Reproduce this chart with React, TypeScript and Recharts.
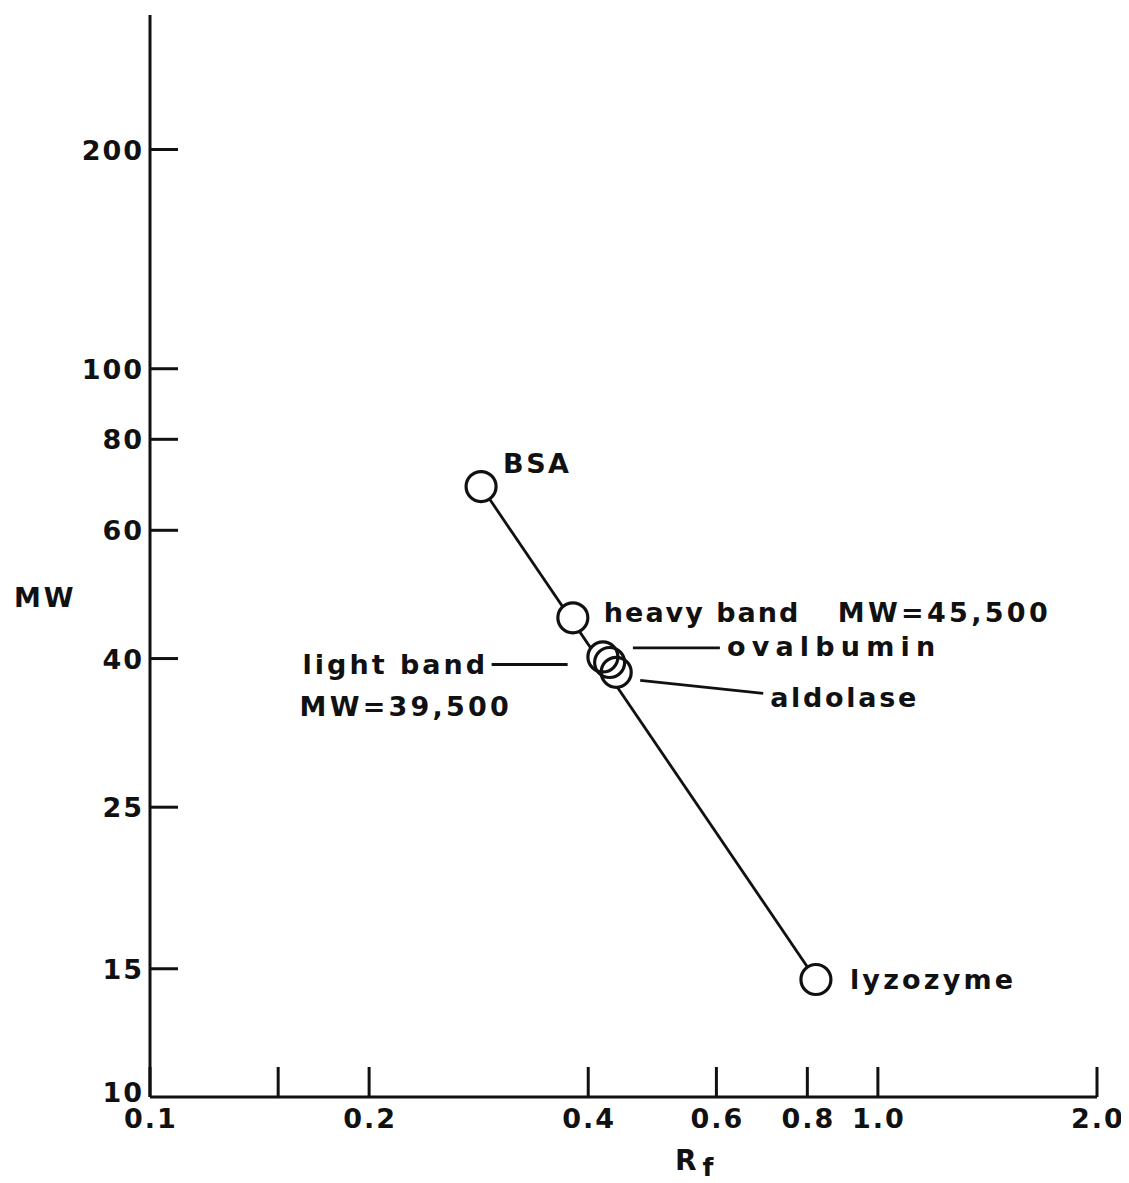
import React from 'react';
import { ComposedChart, Line, Scatter, XAxis, YAxis } from 'recharts';

const proteinNames = ['BSA', 'heavy band', 'ovalbumin', 'light band', 'aldolase', 'lyzozyme'];
const rfValues = [0.285, 0.381, 0.419, 0.428, 0.437, 0.822];
const mwValues = [68.9, 45.5, 40.2, 39.5, 38.3, 14.5];

const fitRf = [0.285, 0.822];
const fitMw = [68.9, 14.5];

const xTicks = [0.1, 0.15, 0.2, 0.4, 0.6, 0.8, 1.0, 2.0];
const xTickLabels = ['0.1', '', '0.2', '0.4', '0.6', '0.8', '1.0', '2.0'];
const yTicks = [10, 15, 25, 40, 60, 80, 100, 200];
const yTickLabels = ['10', '15', '25', '40', '60', '80', '100', '200'];

const points = proteinNames.map((name, i) => ({ name, rf: rfValues[i], mw: mwValues[i] }));
const fitData = fitRf.map((rf, i) => ({ rf, mw: fitMw[i] }));

const FONT = "'DejaVu Sans', Verdana, sans-serif";
const INK = '#111';
const R = 15;

type Ann = {
  texts: { t: string; dx: number; dy: number; ls: number }[];
  leader?: [number, number, number, number];
};

const annotations: Record<string, Ann> = {
  BSA: { texts: [{ t: 'BSA', dx: 22, dy: -24, ls: 2.5 }] },
  'heavy band': {
    texts: [
      { t: 'heavy band', dx: 31, dy: -6, ls: 2 },
      { t: 'MW=45,500', dx: 265, dy: -6, ls: 3.3 },
    ],
  },
  ovalbumin: { texts: [{ t: 'ovalbumin', dx: 124, dy: -11, ls: 6.2 }], leader: [30, -9, 117, -9] },
  'light band': {
    texts: [
      { t: 'light band', dx: -307, dy: 1, ls: 3 },
      { t: 'MW=39,500', dx: -310, dy: 43, ls: 3.2 },
    ],
    leader: [-118, 2, -42, 2],
  },
  aldolase: { texts: [{ t: 'aldolase', dx: 154, dy: 25, ls: 2.7 }], leader: [24, 8, 147, 21] },
  lyzozyme: { texts: [{ t: 'lyzozyme', dx: 34, dy: 0, ls: 3.2 }] },
};

const textStyle = { fontFamily: FONT, fontWeight: 700, fontSize: 27, letterSpacing: 2, fill: INK };

const FillShape = (props: any) => {
  const { cx, cy } = props;
  return <circle cx={cx} cy={cy} r={R} fill="#fff" stroke="none" />;
};

const OutlineShape = (props: any) => {
  const { cx, cy, payload } = props;
  const ann = annotations[payload.name];
  return (
    <g>
      <circle cx={cx} cy={cy} r={R} fill="none" stroke={INK} strokeWidth={3.2} />
      {ann && ann.leader && (
        <line
          x1={cx + ann.leader[0]}
          y1={cy + ann.leader[1]}
          x2={cx + ann.leader[2]}
          y2={cy + ann.leader[3]}
          stroke={INK}
          strokeWidth={2.8}
        />
      )}
      {ann &&
        ann.texts.map((tx, i) => (
          <text key={i} x={cx + tx.dx} y={cy + tx.dy + 10} textAnchor="start" style={{ ...textStyle, letterSpacing: tx.ls }}>
            {tx.t}
          </text>
        ))}
    </g>
  );
};

const XTick = (props: any) => {
  const { x, y, payload } = props;
  const idx = xTicks.indexOf(payload.value);
  const label = idx >= 0 ? xTickLabels[idx] : '';
  return (
    <g>
      <line x1={x} y1={y} x2={x} y2={y - 30} stroke={INK} strokeWidth={3} />
      {label && (
        <text x={x + 1} y={y + 31} textAnchor="middle" style={textStyle}>
          {label}
        </text>
      )}
    </g>
  );
};

const YTick = (props: any) => {
  const { x, y, payload } = props;
  const idx = yTicks.indexOf(payload.value);
  const label = idx >= 0 ? yTickLabels[idx] : '';
  const isBottom = payload.value === 10;
  return (
    <g>
      {!isBottom && <line x1={x} y1={y} x2={x + 28} y2={y} stroke={INK} strokeWidth={3} />}
      <text x={x - 6} y={y + 10 - (isBottom ? 5 : 0)} textAnchor="end" style={textStyle}>
        {label}
      </text>
    </g>
  );
};

export default function App() {
  return (
    <div style={{ width: 1121, height: 1175, background: '#fff' }}>
      <ComposedChart width={1121} height={1175} margin={{ top: 7, right: 32, bottom: 0, left: 0 }}>
        <XAxis
          dataKey="rf"
          type="number"
          scale="log"
          domain={[0.1, 2]}
          allowDataOverflow
          ticks={xTicks}
          interval={0}
          tickSize={0}
          tickMargin={0}
          height={86}
          axisLine={{ stroke: INK, strokeWidth: 3 }}
          tickLine={false}
          tick={<XTick />}
          label={(p: any) => {
            const vb = p.viewBox || {};
            const by = (vb.y || 1089) + 73;
            return (
              <text x={675 - 8} y={by} textAnchor="start" style={{ ...textStyle, fontSize: 28, letterSpacing: 0 }}>
                R
                <tspan dx={6} dy={6} style={{ fontSize: 25 }}>
                  f
                </tspan>
              </text>
            );
          }}
        />
        <YAxis
          dataKey="mw"
          type="number"
          scale="log"
          domain={[10, 306]}
          allowDataOverflow
          ticks={yTicks}
          interval={0}
          tickSize={0}
          tickMargin={0}
          width={142}
          axisLine={{ stroke: INK, strokeWidth: 3 }}
          tickLine={false}
          tick={<YTick />}
          label={() => (
            <text x={14 - 8} y={607 - 8} textAnchor="start" style={{ ...textStyle, letterSpacing: 3 }}>
              MW
            </text>
          )}
        />
        <Line
          data={fitData}
          dataKey="mw"
          type="linear"
          stroke={INK}
          strokeWidth={2.8}
          dot={false}
          activeDot={false}
          isAnimationActive={false}
        />
        <Scatter data={points} dataKey="mw" shape={<FillShape />} isAnimationActive={false} />
        <Scatter data={points} dataKey="mw" shape={<OutlineShape />} isAnimationActive={false} />
      </ComposedChart>
    </div>
  );
}
